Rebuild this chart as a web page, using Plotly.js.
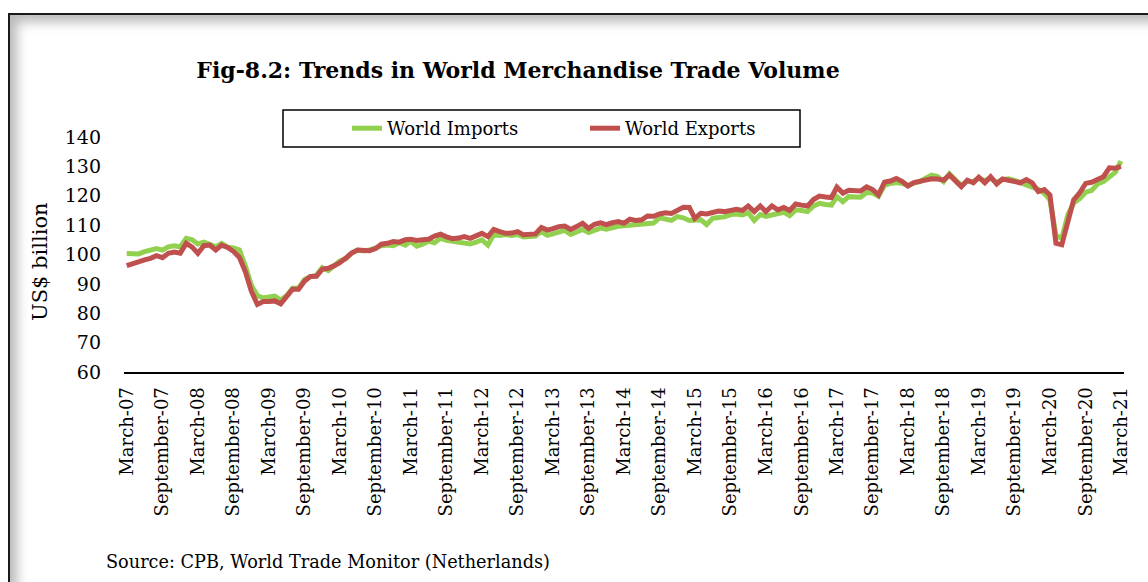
<!DOCTYPE html>
<html>
<head>
<meta charset="utf-8">
<script src="https://cdn.plot.ly/plotly-3.0.1.min.js"></script>
<style>
  html, body { margin: 0; padding: 0; background: #fff; }
  #wrap { position: relative; width: 1148px; height: 582px; overflow: hidden; }
  #chart { position: absolute; left: 0; top: 0; width: 1148px; height: 582px; }
  #frame { position: absolute; left: 8px; top: 13px; width: 1170px; height: 590px;
           border: 2px solid #1a1a1a; box-shadow: inset 7px 7px 12px rgba(0,0,0,0.28);
           pointer-events: none; box-sizing: border-box; }
</style>
</head>
<body>
<div id="wrap">
  <div id="chart"></div>
  <div id="frame"></div>
</div>
<script>
// Monthly series, March 2007 to March 2021 (169 months)
const startMonth = "2007-03";
const monthCount = 169;

const worldImports = [
  100.3, 100.1, 100.2, 101.0, 101.6, 102.0, 101.5, 102.6, 103.0, 102.6,
  105.5, 105.0, 103.6, 104.2, 103.5, 102.6, 103.8, 102.5, 102.2, 101.5,
  96.0, 89.5, 86.0, 85.2, 85.5, 85.8, 84.5, 86.0, 88.5, 88.5,
  91.5, 92.5, 93.0, 95.5, 94.5, 96.0, 97.8, 98.5, 100.5, 101.5,
  101.2, 101.5, 102.3, 103.0, 103.2, 103.0, 104.0, 103.2, 104.5, 102.8,
  103.5, 104.5, 104.0, 105.5, 104.8, 104.5, 104.2, 103.8, 103.6, 104.2,
  105.0, 103.2, 106.8, 106.5, 106.8, 106.5, 106.8, 106.0, 106.2, 106.3,
  107.8, 106.5, 107.0, 107.8, 108.2, 106.8, 107.8, 108.5, 107.5, 108.2,
  109.0, 108.6, 109.3, 109.6, 109.8, 110.0, 110.1, 110.3, 110.5, 110.7,
  112.5, 112.0, 111.6, 112.9, 112.5, 111.6, 111.6, 111.8, 110.2, 112.3,
  112.6, 112.8, 113.6, 113.8, 113.5, 114.2, 111.6, 113.6, 113.0, 113.6,
  113.8, 114.4, 113.2, 115.2, 115.0, 114.6, 116.5, 117.4, 117.0, 116.8,
  119.7, 118.0, 119.7, 119.6, 119.5, 121.1, 120.9, 119.8, 123.5, 124.2,
  124.5, 124.2, 123.5, 124.3, 124.8, 126.0, 127.0, 126.5, 124.8, 127.5,
  125.5, 123.5, 125.0, 124.8, 126.0, 125.2, 126.0, 124.5, 125.5, 125.8,
  125.2, 124.4, 124.0, 123.0, 122.2, 120.8, 118.6, 106.5, 105.5, 113.5,
  117.5, 119.0, 121.2, 121.8, 124.0, 124.8, 126.3, 128.0, 131.8
];

const worldExports = [
  96.2, 97.0, 97.8, 98.2, 98.7, 99.6, 98.9, 100.4, 100.8, 100.4,
  103.8, 102.5, 100.4, 103.0, 103.2, 101.5, 103.2, 102.4, 101.0, 99.0,
  94.0, 87.5, 83.0, 84.0, 84.0, 84.2, 83.2, 85.5, 88.2, 88.2,
  91.0, 92.5, 92.6, 95.0, 95.3, 96.2, 97.2, 98.8, 100.5, 101.5,
  101.2, 101.3, 102.0, 103.5, 103.8, 104.4, 104.2, 105.0, 105.2, 104.8,
  105.0, 105.2, 106.3, 106.9, 106.0, 105.4, 105.6, 106.1, 105.5, 106.5,
  107.2, 106.1, 108.5, 107.8, 107.2, 107.3, 107.8, 106.7, 106.9, 107.0,
  109.2, 108.3, 108.8, 109.5, 109.7, 108.5, 109.5, 110.6, 108.9, 110.3,
  110.8, 110.2, 110.8, 111.2, 110.6, 112.0, 111.6, 111.8, 113.1, 113.0,
  113.8, 114.2, 114.0, 115.0, 116.1, 116.0, 112.3, 114.0, 113.8, 114.3,
  114.8, 114.6, 115.2, 115.4, 115.0, 116.5, 114.6, 116.5, 114.6, 116.5,
  115.2, 116.0, 115.0, 117.2, 116.8, 116.5, 118.7, 119.9, 119.6, 119.4,
  122.9, 120.9, 121.9, 121.8, 121.6, 123.0, 122.1, 120.3, 124.6, 125.0,
  125.9, 124.8, 123.3, 124.5, 125.0, 125.5, 125.8, 125.7, 125.3, 127.1,
  125.2, 123.1, 125.3, 124.4, 126.3, 124.4, 126.5, 124.0, 125.7, 125.4,
  124.9, 124.4, 125.5, 124.4, 121.4, 122.1, 120.3, 103.8, 103.3, 111.7,
  118.6, 121.0, 124.2, 124.6, 125.5, 126.5, 129.5, 129.4, 130.0
];

const yTicks = [60, 70, 80, 90, 100, 110, 120, 130, 140];

// month list (date axis)
const months = [];
{
  let y = parseInt(startMonth.slice(0, 4)), m = parseInt(startMonth.slice(5, 7));
  for (let k = 0; k < monthCount; k++) {
    months.push(y + "-" + String(m).padStart(2, "0") + "-01");
    m++; if (m > 12) { m = 1; y++; }
  }
}

const FONT = "DejaVu Serif, Liberation Serif, serif";

// pixel helpers for the plot frame (l=124, width=1000; bottom=372, height=235)
const px = v => (v - 124) / 1000;
const py = v => (372 - v) / 235;

const traces = [
  { x: months, y: worldImports, name: "World Imports", type: "scatter", mode: "lines",
    line: { color: "#92D050", width: 5 } },
  { x: months, y: worldExports, name: "World Exports", type: "scatter", mode: "lines",
    line: { color: "#C0504D", width: 5 } }
];

const layout = {
  width: 1148, height: 582,
  margin: { l: 124, r: 24, t: 137, b: 210 },
  paper_bgcolor: "#ffffff", plot_bgcolor: "#ffffff",
  font: { family: FONT, color: "#000", size: 18 },
  showlegend: true,
  title: { text: "<b>Fig-8.2: Trends in World Merchandise Trade Volume</b>",
           font: { family: FONT, size: 22, color: "#000" },
           xref: "container", x: 518 / 1148, xanchor: "center",
           yref: "container", y: 1 - 70 / 582, yanchor: "middle" },
  xaxis: {
    type: "date",
    range: ["2007-02-15", "2021-03-17"],
    tick0: "2007-03-01", dtick: "M6", tickformat: "%B-%y",
    tickangle: -90, ticks: "", showgrid: false, zeroline: false,
    showline: true, linecolor: "#000", linewidth: 2,
    tickfont: { family: FONT, size: 18, color: "#000" },
    ticklabelstandoff: 6
  },
  yaxis: {
    range: [60, 140], tickvals: yTicks, ticks: "",
    showgrid: false, zeroline: false, showline: false,
    tickfont: { family: FONT, size: 19, color: "#000" },
    ticklabelstandoff: 22
  },
  legend: {
    orientation: "h", x: px(347), y: py(110),
    xanchor: "left", yanchor: "top",
    bgcolor: "rgba(0,0,0,0)", borderwidth: 0,
    font: { family: FONT, size: 18, color: "#000" },
    entrywidth: 193, entrywidthmode: "pixels"
  },
  shapes: [
    { type: "rect", xref: "paper", yref: "paper", layer: "below",
      x0: px(283), x1: px(800), y0: py(147), y1: py(110),
      line: { color: "#000", width: 1.5 }, fillcolor: "#fff" }
  ],
  annotations: [
    { text: "US$ billion", xref: "paper", yref: "paper", x: px(40), y: py(262),
      xanchor: "center", yanchor: "middle", textangle: -90, showarrow: false,
      font: { family: FONT, size: 21, color: "#000" } },
    { text: "Source: CPB, World Trade Monitor (Netherlands)", xref: "paper", yref: "paper",
      x: px(104), y: py(562), xanchor: "left", yanchor: "middle",
      showarrow: false, font: { family: FONT, size: 17.7, color: "#000" } }
  ]
};

Plotly.newPlot("chart", traces, layout, { displayModeBar: false, staticPlot: true });
</script>
</body>
</html>
